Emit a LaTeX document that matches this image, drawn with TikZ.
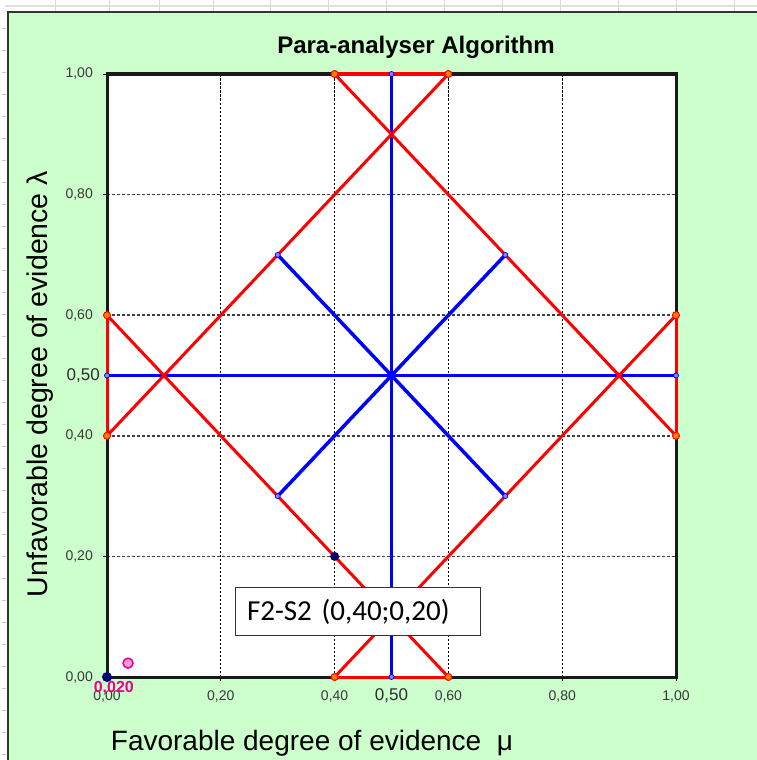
\documentclass[tikz,border=0pt]{standalone}
\usepackage{fontspec}
\setmainfont{Liberation Sans}
\newfontfamily\boxfont{Carlito}
\usetikzlibrary{positioning}

\definecolor{sheetgreen}{HTML}{CCFFCC}
\definecolor{dotnavy}{HTML}{000070}
\definecolor{labgray}{HTML}{383838}
\definecolor{pinkfill}{HTML}{FF99DD}

\tikzset{
  redline/.style={red, line width=3pt},
  blueline/.style={blue, line width=3.5pt},
  vgrid/.style={black, line width=1.1pt, dash pattern=on 2.5pt off 1.5pt},
  hgrid/.style={black!75, line width=1.6pt, dash pattern=on 3pt off 2pt},
  reddot/.style={circle, fill=orange, draw=red, line width=1pt, inner sep=0pt, minimum size=7pt},
  bluedot/.style={circle, fill=blue!45, draw=blue, line width=0.8pt, inner sep=0pt, minimum size=5pt},
  navydot/.style={circle, fill=dotnavy, inner sep=0pt, minimum size=#1},
  ticklab/.style={text=labgray, font=\fontsize{14}{14}\selectfont, inner sep=0pt},
  midlab/.style={text=labgray!80!black, font=\fontsize{17}{17}\selectfont, inner sep=0pt}
}

\begin{document}
\begin{tikzpicture}[x=1pt, y=-1pt]
  \useasboundingbox (0,0) rectangle (757,760);
  % Sheet behind the chart
  \fill[white] (0,0) rectangle (757,760);
  \draw[gray!25, line width=1.2pt] (5,6) -- (757,6);
  \foreach \gx in {55,109,159,213,270,328,386,444,502,560,618,676,734}
    \draw[gray!30, line width=0.8pt] (\gx,0) -- (\gx,12);
  \foreach \k in {0,...,33}
    \draw[gray!45, line width=0.8pt] (2,28.5+22*\k) -- (6,28.5+22*\k);
  \fill[sheetgreen] (8,12) rectangle (757,760);
  \draw[black!80, line width=2.2pt] (8,760) -- (8,12) -- (757,12);

  \node[font=\bfseries\fontsize{24}{24}\selectfont] (title) at (416,47) {Para-analyser Algorithm};

  \begin{scope}[shift={(107,677)}, x=569pt, y=603pt]
    % Plot area
    \fill[white] (0,0) rectangle (1,1);
    \foreach \g in {0.2,0.4,0.6,0.8} {
      \draw[vgrid] (\g,0) -- (\g,1);
      \draw[hgrid] (0,\g) -- (1,\g);
    }
    \foreach \g in {0,0.2,0.4,0.6,0.8,1} {
      \draw[line width=1pt] (\g,0) -- ++(0,-4pt);
      \draw[line width=1pt] (0,\g) -- ++(-4pt,0);
    }
    \draw[black!90, line width=3pt] (0,0) rectangle (1,1);

    % Lattice points
    \coordinate (topL) at (0.4,1);   \coordinate (topR) at (0.6,1);
    \coordinate (botL) at (0.4,0);   \coordinate (botR) at (0.6,0);
    \coordinate (lftB) at (0,0.4);   \coordinate (lftT) at (0,0.6);
    \coordinate (rgtB) at (1,0.4);   \coordinate (rgtT) at (1,0.6);
    \coordinate (bTop) at (0.5,1);   \coordinate (bBot) at (0.5,0);
    \coordinate (bLft) at (0,0.5);   \coordinate (bRgt) at (1,0.5);
    \coordinate (qNW) at (0.3,0.7);  \coordinate (qNE) at (0.7,0.7);
    \coordinate (qSW) at (0.3,0.3);  \coordinate (qSE) at (0.7,0.3);

    % Control lines
    \draw[blueline] (bBot) -- (bTop);
    \draw[blueline] (bLft) -- (bRgt);
    \draw[blueline] (qSW) -- (qNE);
    \draw[blueline] (qNW) -- (qSE);

    % Limit lines
    \draw[redline] (topL) -- (topR);
    \draw[redline] (botL) -- (botR);
    \draw[redline] (lftB) -- (lftT);
    \draw[redline] (rgtB) -- (rgtT);
    \draw[redline] (topL) -- (rgtB);
    \draw[redline] (topR) -- (lftB);
    \draw[redline] (lftT) -- (botR);
    \draw[redline] (botL) -- (rgtT);

    \foreach \p in {topL,topR,botL,botR,lftB,lftT,rgtB,rgtT}
      \node[reddot] (d\p) at (\p) {};
    \foreach \p in {bTop,bBot,bLft,bRgt,qNW,qNE,qSW,qSE}
      \node[bluedot] (d\p) at (\p) {};

    % Tick labels
    \foreach \g/\t in {0/0{,}00,0.2/0{,}20,0.4/0{,}40,0.6/0{,}60,0.8/0{,}80,1/1{,}00} {
      \node[ticklab] (xl\g) at ([yshift=-19pt]\g,0) {\t};
      \node[ticklab, anchor=east] (yl\g) at ([xshift=-14pt]0,\g) {\t};
    }
    \node[midlab] (xmid) at ([yshift=-19pt]0.5,0) {0,50};
    \node[midlab, anchor=east] (ymid) at ([xshift=-7pt]0,0.5) {0,50};

    % Analysed points
    \node[navydot=10pt] (origin) at (0,0) {};
    \node[navydot=9pt] (fs) at (0.4,0.2) {};
    \node[circle, fill=pinkfill, draw=magenta, line width=1.5pt, inner sep=0pt, minimum size=10pt] (pk) at (0.037,0.023) {};
    \node[text=magenta, font=\bfseries\fontsize{16}{16}\selectfont, inner sep=0pt] (pklab) at (0.012,-0.018) {0,020};
  \end{scope}

  \node[draw=black!80, line width=1pt, fill=white, minimum height=48pt, inner xsep=12pt,
        text width=221pt, align=left, font=\boxfont\fontsize{29}{29}\selectfont] (fsbox) at (357.5,611.5) {F2-S2 (0,40;0,20)};

  % Axis titles
  \node[rotate=90, font=\fontsize{28.5}{28.5}\selectfont] (ylab) at (40,384) {Unfavorable degree of evidence λ};
  \node[font=\fontsize{28}{28}\selectfont] (xlab) at (312,743) {Favorable degree of evidence~~μ};
\end{tikzpicture}
\end{document}
